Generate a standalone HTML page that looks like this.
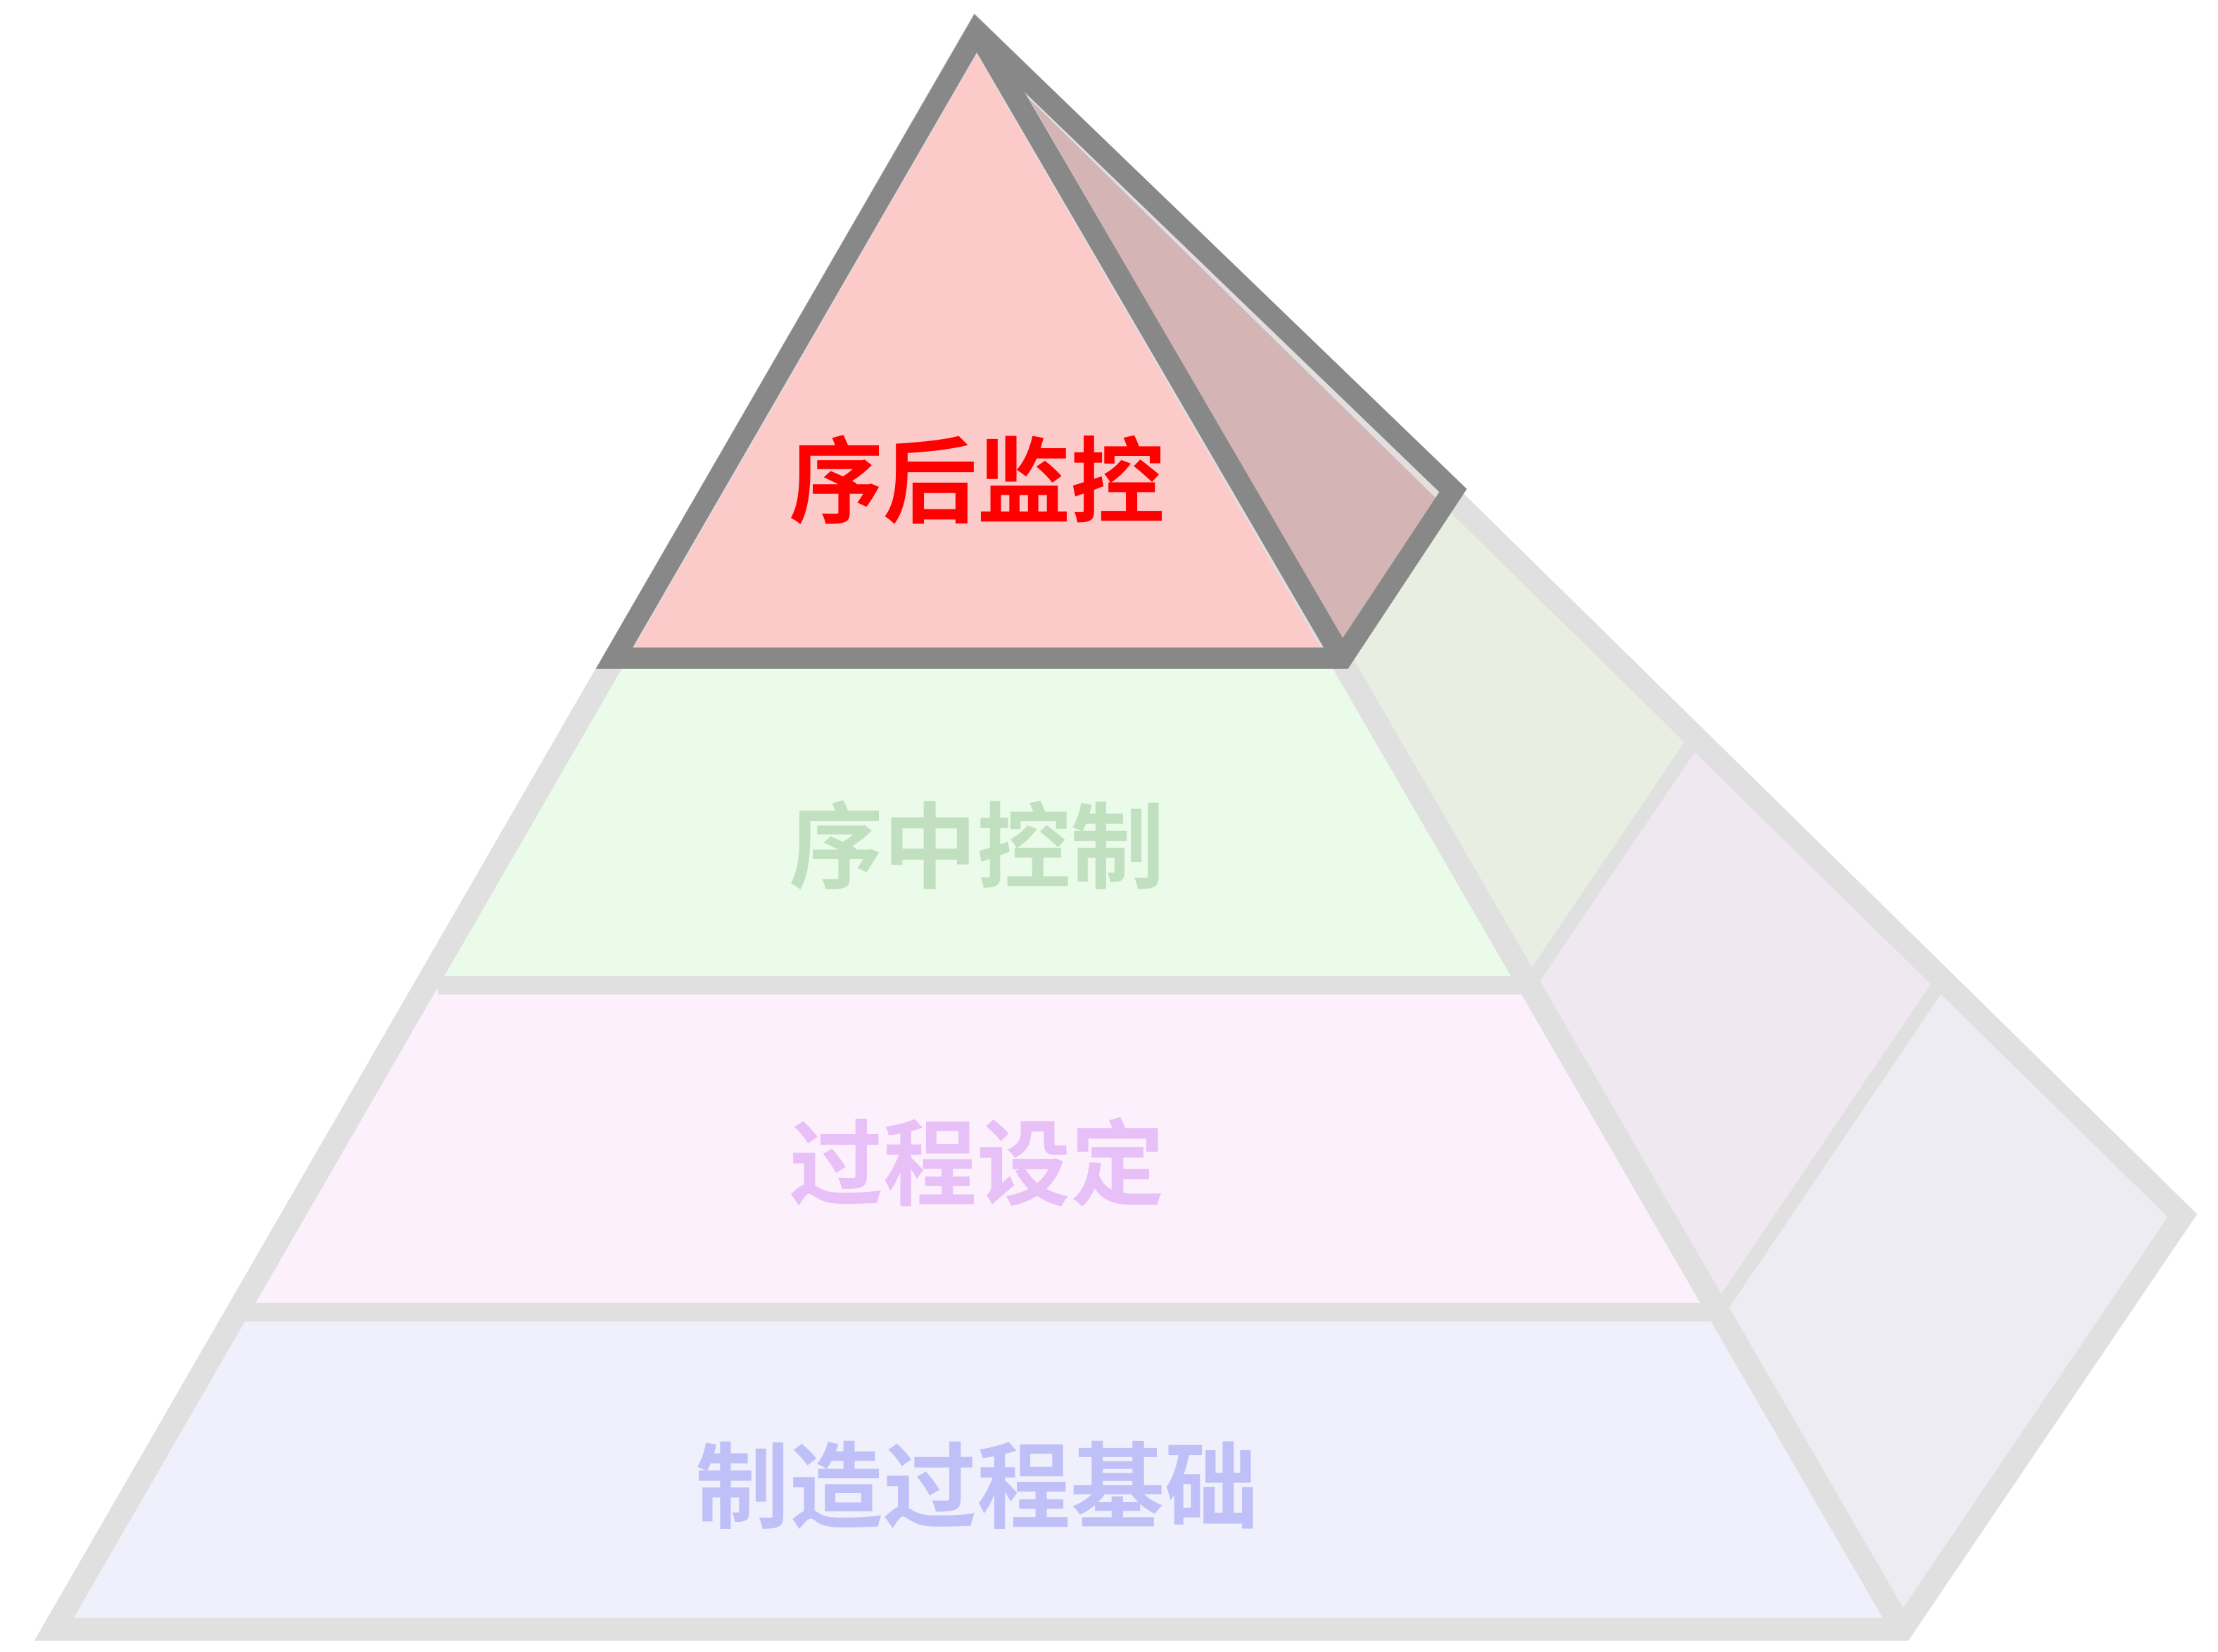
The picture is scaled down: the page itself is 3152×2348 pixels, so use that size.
<!DOCTYPE html>
<html><head><meta charset="utf-8"><style>
html,body{margin:0;padding:0;background:#fff;}
svg{display:block;}
text{font-family:"Liberation Sans","Noto Sans CJK SC",sans-serif;text-anchor:middle;dominant-baseline:central;font-weight:bold;}
</style></head><body>
<svg width="3152" height="2348" viewBox="0 0 1560 1162" preserveAspectRatio="none" xmlns="http://www.w3.org/2000/svg">
<g stroke="none">
<polygon points="687,22 432,463 944,463" fill="#fdcaca"/>
<polygon points="432,463 944,463 1075,693 308,693" fill="#eafce9"/>
<polygon points="308,693 1075,693 1208,923 172,923" fill="#fcf0fc"/>
<polygon points="172,923 1208,923 1338,1146 38,1146" fill="#f0f0fc"/>
<polygon points="687,22 1022,345 944,463" fill="#d4b4b5"/>
<polygon points="944,463 1022,345 1190,523 1075,693" fill="#e8efe2"/>
<polygon points="1075,693 1190,523 1362,695 1208,923" fill="#f0e8f0"/>
<polygon points="1208,923 1362,695 1535,855 1338,1146" fill="#ececf2"/>
</g>
<g fill="none" stroke="#e0e0e0" stroke-width="16" stroke-linejoin="miter">
<polygon points="687,22 1535,855 1338,1146 38,1146"/>
<line x1="687" y1="22" x2="1338" y2="1146"/>
<line x1="308" y1="693" x2="1075" y2="693" stroke-width="13"/>
<line x1="172" y1="923" x2="1208" y2="923" stroke-width="13"/>
<line x1="1075" y1="693" x2="1190" y2="523" stroke-width="10"/>
<line x1="1208" y1="923" x2="1362" y2="695" stroke-width="10"/>
</g>
<g fill="none" stroke="#888888" stroke-width="15" stroke-linejoin="miter">
<polygon points="687,22 1022,345 944,463 432,463"/>
<line x1="687" y1="22" x2="944" y2="463"/>
</g>
<text x="687" y="340" font-size="66" fill="#ff0000">序后监控</text>
<text x="687" y="597" font-size="66" fill="#c0e0c0">序中控制</text>
<text x="687" y="820" font-size="66" fill="#e8c0f8">过程设定</text>
<text x="687" y="1047" font-size="66" fill="#c0c0f8">制造过程基础</text>
</svg>
</body></html>
